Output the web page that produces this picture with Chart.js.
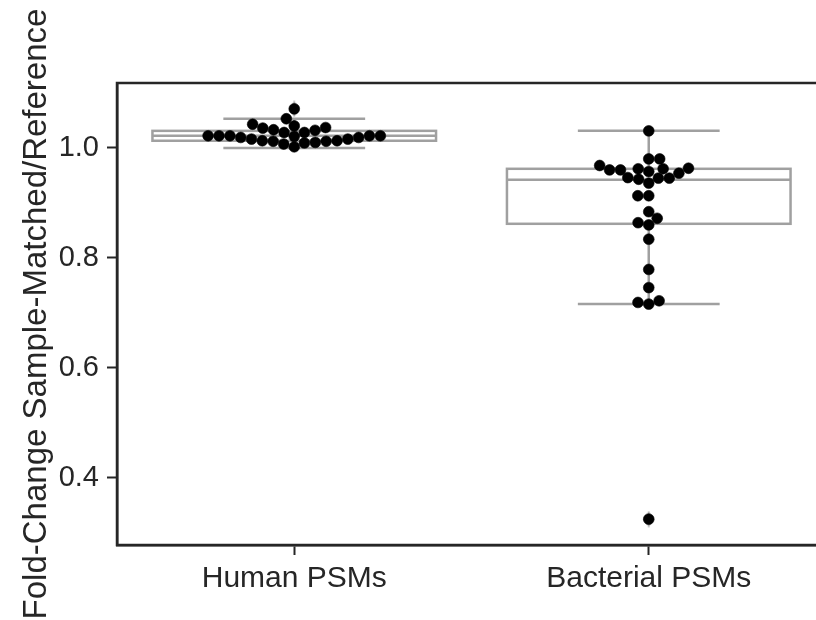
<!DOCTYPE html>
<html lang="en">
<head>
    <meta charset="UTF-8">
    <title>Fold-Change Sample-Matched/Reference</title>
    <script src="https://cdn.jsdelivr.net/npm/chart.js"></script>
    <style>
        html, body {
            margin: 0;
            padding: 0;
            overflow: hidden;
            background-color: #fff;
        }
        canvas {
            display: block;
        }
    </style>
</head>
<body>
    <canvas id="chart" width="840" height="620"></canvas>

    <script>
        // Data
        const categories = ['Human PSMs', 'Bacterial PSMs'];
        const humanValues = [1.071, 1.053, 1.043, 1.040, 1.037, 1.036, 1.033, 1.032, 1.028, 1.028,
            1.022, 1.022, 1.022, 1.022, 1.022, 1.021, 1.019, 1.019, 1.016, 1.016,
            1.013, 1.013, 1.012, 1.012, 1.010, 1.009, 1.007, 1.002];
        const bacterialValues = [1.031, 0.980, 0.980, 0.968, 0.963, 0.962, 0.962, 0.960, 0.960, 0.957,
            0.954, 0.946, 0.945, 0.945, 0.943, 0.936, 0.913, 0.913, 0.884, 0.872,
            0.864, 0.860, 0.834, 0.779, 0.746, 0.722, 0.719, 0.716, 0.325];

        // box statistics per category
        const whiskerLow = [1.000, 0.716];
        const boxQ1 = [1.013, 0.862];
        const boxMedian = [1.022, 0.942];
        const boxQ3 = [1.031, 0.962];
        const whiskerHigh = [1.053, 1.031];
        const outliers = [[1.071], [0.325]];

        const yTicks = [0.4, 0.6, 0.8, 1.0];
        const yMin = 0.278;
        const yMax = 1.118;
        const yTitle = 'Fold-Change Sample-Matched/Reference';

        const axisColor = '#262626';
        const boxGray = '#a0a0a0';
        const fontFamily = '"Liberation Sans", Arial, sans-serif';

        // thin diamond marker for fliers (mostly hidden behind the dots)
        const diamond = document.createElement('canvas');
        diamond.width = 10;
        diamond.height = 17;
        const dctx = diamond.getContext('2d');
        dctx.fillStyle = boxGray;
        dctx.beginPath();
        dctx.moveTo(5, 0);
        dctx.lineTo(9, 8.5);
        dctx.lineTo(5, 17);
        dctx.lineTo(1, 8.5);
        dctx.closePath();
        dctx.fill();

        const boxPlugin = {
            id: 'boxes',
            beforeDatasetsDraw(chart) {
                const { ctx, scales: { x, y } } = chart;
                ctx.save();
                ctx.strokeStyle = boxGray;
                ctx.lineWidth = 2.5;
                categories.forEach((c, i) => {
                    const xc = x.getPixelForValue(i);
                    const x0 = x.getPixelForValue(i - 0.4);
                    const x1 = x.getPixelForValue(i + 0.4);
                    const c0 = x.getPixelForValue(i - 0.2);
                    const c1 = x.getPixelForValue(i + 0.2);
                    const yLo = y.getPixelForValue(whiskerLow[i]);
                    const yQ1 = y.getPixelForValue(boxQ1[i]);
                    const yMed = y.getPixelForValue(boxMedian[i]);
                    const yQ3 = y.getPixelForValue(boxQ3[i]);
                    const yHi = y.getPixelForValue(whiskerHigh[i]);
                    ctx.beginPath();
                    // whiskers
                    ctx.moveTo(xc, yQ1); ctx.lineTo(xc, yLo);
                    ctx.moveTo(xc, yQ3); ctx.lineTo(xc, yHi);
                    // caps
                    ctx.moveTo(c0, yLo); ctx.lineTo(c1, yLo);
                    ctx.moveTo(c0, yHi); ctx.lineTo(c1, yHi);
                    // median
                    ctx.moveTo(x0, yMed); ctx.lineTo(x1, yMed);
                    ctx.stroke();
                    ctx.strokeRect(x0, yQ3, x1 - x0, yQ1 - yQ3);
                });
                ctx.restore();
            }
        };

        const framePlugin = {
            id: 'frame',
            afterDraw(chart) {
                const { ctx, chartArea: a } = chart;
                ctx.save();
                ctx.strokeStyle = axisColor;
                ctx.lineWidth = 2.5;
                ctx.strokeRect(a.left, a.top, a.right - a.left, a.bottom - a.top);
                ctx.restore();
            }
        };

        // drawn by hand since the title is longer than the axis
        const titlePlugin = {
            id: 'ytitle',
            afterDraw(chart) {
                const { ctx, chartArea: a } = chart;
                ctx.save();
                ctx.translate(37, (a.top + a.bottom) / 2);
                ctx.rotate(-Math.PI / 2);
                ctx.font = '33px ' + fontFamily;
                ctx.fillStyle = axisColor;
                ctx.textAlign = 'center';
                ctx.textBaseline = 'middle';
                ctx.fillText(yTitle, 0, 0);
                ctx.restore();
            }
        };

        // seaborn-like beeswarm, done in pixels then mapped back through the scales
        function swarm(chart, values, index) {
            const xs = chart.scales.x;
            const ys = chart.scales.y;
            const mid = xs.getPixelForValue(index);
            const r = 5.2;
            const pts = values.map(v => ({ v: v, y: ys.getPixelForValue(v) })).sort((a, b) => a.v - b.v);
            const placed = [];
            pts.forEach(p => {
                const nb = [];
                for (let j = placed.length - 1; j >= 0; j--) {
                    if (Math.abs(p.y - placed[j].y) < 2 * r) nb.unshift(placed[j]);
                    else break;
                }
                const cands = [mid];
                let leftFirst = true;
                nb.forEach(q => {
                    const dy = p.y - q.y;
                    const dx = Math.sqrt(Math.max(4 * r * r - dy * dy, 0)) * 1.05;
                    if (leftFirst) cands.push(q.x - dx, q.x + dx);
                    else cands.push(q.x + dx, q.x - dx);
                    leftFirst = !leftFirst;
                });
                const order = cands.map((c, k) => ({ c, k }))
                    .sort((a, b) => (Math.abs(a.c - mid) - Math.abs(b.c - mid)) || (a.k - b.k));
                let px = mid;
                for (const o of order) {
                    const ok = nb.every(q => (q.x - o.c) ** 2 + (q.y - p.y) ** 2 >= 4 * r * r - 1e-6);
                    if (ok) { px = o.c; break; }
                }
                placed.push({ x: px, y: p.y, v: p.v });
            });
            return placed.map(q => ({ x: xs.getValueForPixel(q.x), y: q.v }));
        }

        const flierPoints = [];
        outliers.forEach((list, i) => list.forEach(v => flierPoints.push({ x: i, y: v })));

        const chart = new Chart(document.getElementById('chart').getContext('2d'), {
            type: 'scatter',
            data: {
                datasets: [
                    {
                        label: 'values',
                        data: [],
                        pointRadius: 5.4,
                        pointHoverRadius: 5.4,
                        backgroundColor: '#000',
                        borderColor: '#000',
                        borderWidth: 0.6,
                        order: 0
                    },
                    {
                        label: 'fliers',
                        data: flierPoints,
                        pointStyle: diamond,
                        backgroundColor: boxGray,
                        order: 1
                    }
                ]
            },
            options: {
                responsive: false,
                animation: false,
                events: [],
                layout: { padding: { top: 83, right: 14, bottom: 0, left: 0 } },
                plugins: {
                    legend: { display: false },
                    tooltip: { enabled: false }
                },
                scales: {
                    x: {
                        type: 'linear',
                        min: -0.5,
                        max: 1.5,
                        afterBuildTicks: s => { s.ticks = categories.map((c, i) => ({ value: i })); },
                        afterFit: s => { s.height = 75; },
                        ticks: {
                            callback: v => categories[v],
                            font: { family: fontFamily, size: 30 },
                            color: axisColor,
                            padding: 6,
                            maxRotation: 0,
                            autoSkip: false
                        },
                        grid: { drawOnChartArea: false, tickLength: 10, tickWidth: 2, tickColor: axisColor },
                        border: { color: axisColor, width: 2.5 }
                    },
                    y: {
                        min: yMin,
                        max: yMax,
                        afterBuildTicks: s => { s.ticks = yTicks.map(v => ({ value: v })); },
                        afterFit: s => { s.width = 117; },
                        ticks: {
                            callback: v => v.toFixed(1),
                            font: { family: fontFamily, size: 29 },
                            color: axisColor,
                            padding: 8
                        },
                        grid: { drawOnChartArea: false, tickLength: 10, tickWidth: 2, tickColor: axisColor },
                        border: { color: axisColor, width: 2.5 }
                    }
                }
            },
            plugins: [boxPlugin, framePlugin, titlePlugin]
        });

        // second pass: swarm offsets need the laid-out scales
        chart.data.datasets[0].data = swarm(chart, humanValues, 0).concat(swarm(chart, bacterialValues, 1));
        chart.update('none');
    </script>
</body>
</html>
